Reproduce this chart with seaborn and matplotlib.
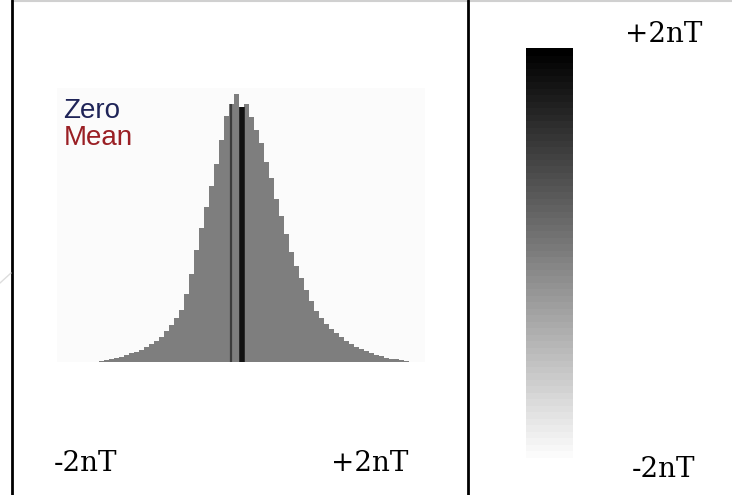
import numpy as np
import pandas as pd
import matplotlib.pyplot as plt
import seaborn as sns
from matplotlib.colors import Normalize
from matplotlib.cm import ScalarMappable
from matplotlib.lines import Line2D

# histogram of field values in nT, bin heights
bin_start = -1.65
bin_width = 0.0625
counts = [1, 2, 3, 4, 5, 7, 9, 10, 12, 15,
          18, 21, 25, 31, 37, 44, 52, 68, 88, 112,
          134, 155, 176, 198, 222, 246, 258, 268, 255, 258,
          245, 232, 219, 200, 184, 163, 146, 128, 110, 96,
          84, 72, 61, 51, 44, 38, 33, 29, 25, 21,
          18, 15, 13, 11, 9, 7, 6, 4, 3, 3,
          2, 1]

zero_value = 0.0
mean_value = 0.14

# colour scale
scale_min = -2
scale_max = 2
scale_labels = ['-2nT', '+2nT']
legend_labels = ['Zero', 'Mean']

sns.set_style('white')
plt.rcParams['font.family'] = ['DejaVu Serif']
plt.rcParams['text.color'] = 'black'

W, H = 732, 495
fig = plt.figure(figsize=(W / 100, H / 100), dpi=100)


def fx(px):
    return px / W


def fy(py):
    return 1 - py / H


# histogram panel
ax = fig.add_axes([fx(57), fy(362), (425 - 57) / W, (362 - 88) / H])
ax.set_facecolor('#fbfbfb')

edges = bin_start + bin_width * np.arange(len(counts) + 1)
df = pd.DataFrame({'value': edges[:-1] + bin_width / 2, 'count': counts})
sns.histplot(data=df, x='value', weights='count', bins=list(edges),
             color='#7e7e7e', alpha=1, linewidth=0, ax=ax)

zero_idx = int((zero_value - bin_start) // bin_width)
mean_idx = int((mean_value - bin_start) // bin_width)
ax.vlines(zero_value, 0, counts[zero_idx], color='#3c3c3c', lw=1.6)
ax.vlines(mean_value, 0, counts[mean_idx], color='#111111', lw=4)

ax.set_xlim(-2.175, 2.425)
ax.set_ylim(0, 274)
ax.set_xticks([])
ax.set_yticks([])
ax.set_xlabel('')
ax.set_ylabel('')
sns.despine(ax=ax, left=True, bottom=True)

fig.text(fx(63), fy(118), legend_labels[0], color='#1f2458',
         family='Liberation Sans', fontsize=20, va='baseline')
fig.text(fx(64), fy(145), legend_labels[1], color='#9a1f24',
         family='Liberation Sans', fontsize=20, va='baseline')

# range labels under the histogram
fig.text(fx(54), fy(471), scale_labels[0], fontsize=20, ha='left', va='baseline')
fig.text(fx(408), fy(471), scale_labels[1], fontsize=20, ha='right', va='baseline')

# colour bar panel
cax = fig.add_axes([fx(526), fy(462), (573 - 526) / W, (462 - 48) / H])
sm = ScalarMappable(norm=Normalize(scale_min, scale_max), cmap=plt.get_cmap('gray_r', 64))
cb = fig.colorbar(sm, cax=cax)
cb.outline.set_visible(False)
cb.solids.set_edgecolor('face')
cb.set_ticks([])

fig.text(fx(702), fy(42), scale_labels[1], fontsize=20, ha='right', va='baseline')
fig.text(fx(695), fy(477), scale_labels[0], fontsize=20, ha='right', va='baseline')

# frame lines
fig.add_artist(Line2D([fx(12), 1], [fy(0.7), fy(0.7)], color='#d0d0d0', lw=1.5))
fig.add_artist(Line2D([fx(12), fx(12)], [0, 1], color='black', lw=2))
fig.add_artist(Line2D([fx(468), fx(468)], [0, 1], color='black', lw=2))
fig.add_artist(Line2D([fx(0), fx(11)], [fy(283), fy(273)], color='#dddddd', lw=1))

fig.savefig('out.png', dpi=100)
